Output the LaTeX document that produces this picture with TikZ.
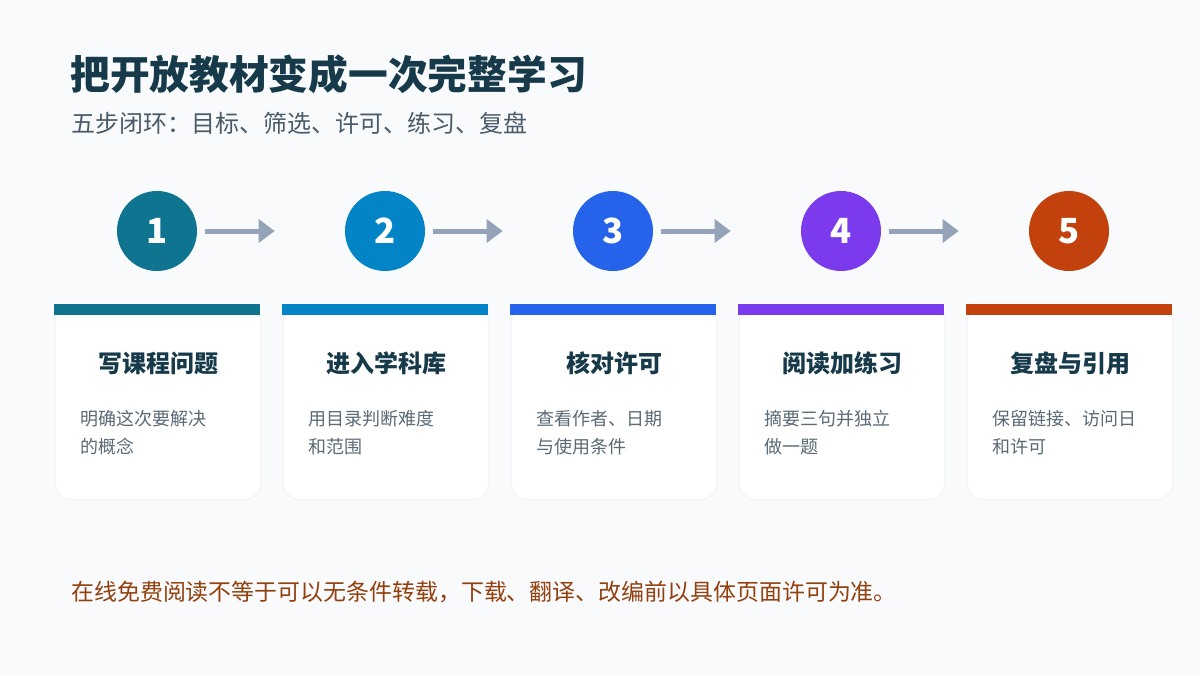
\documentclass[tikz,border=0pt]{standalone}
\usepackage{fontspec}
\setmainfont{Noto Sans CJK SC}
\usepackage{xcolor}
\usetikzlibrary{arrows.meta}
\definecolor{pagebg}{HTML}{F8FAFC}
\definecolor{ink}{HTML}{173A4A}
\definecolor{subink}{HTML}{4A5B69}
\definecolor{bodyink}{HTML}{5B6A76}
\definecolor{arrowgray}{HTML}{94A3B8}
\definecolor{noteink}{HTML}{92400E}
\definecolor{cardline}{HTML}{F1F4F7}
\definecolor{stepA}{HTML}{0E7490}
\definecolor{stepB}{HTML}{0284C7}
\definecolor{stepC}{HTML}{2563EB}
\definecolor{stepD}{HTML}{7C3AED}
\definecolor{stepE}{HTML}{C2410C}

\begin{document}
\begin{tikzpicture}[x=0.75pt,y=-0.75pt,
    flow/.style={draw=arrowgray,line width=3.75pt,-{Triangle[length=12pt,width=17pt]}},
    stepdot/.style={circle,minimum size=60pt,inner sep=0pt,text=white,
      font=\bfseries\fontsize{26}{26}\selectfont},
    card/.style={fill=white,draw=cardline,line width=0.8pt,rounded corners=13.5pt,
      minimum width=154.5pt,minimum height=146.25pt,inner sep=0pt},
    cardhead/.style={text=ink,font=\bfseries\fontsize{18}{18}\selectfont},
    cardtext/.style={text=bodyink,anchor=west,inner sep=0pt,font=\fontsize{13.5}{13.5}\selectfont}]
    \useasboundingbox[fill=pagebg] (0,0) rectangle (1200,675);
    \node[anchor=west,inner sep=0pt,text=ink,font=\bfseries\fontsize{29.8}{29.8}\selectfont]
      (title) at (70,74) {把开放教材变成一次完整学习};
    \node[anchor=west,inner sep=0pt,text=subink,font=\fontsize{18}{18}\selectfont]
      (subtitle) at (71,123) {五步闭环：目标、筛选、许可、练习、复盘};
    % five steps: dot, card with colour bar, two text lines
    \foreach \i/\col/\head/\la/\lb in {1/stepA/写课程问题/明确这次要解决/的概念,
        2/stepB/进入学科库/用目录判断难度/和范围,
        3/stepC/核对许可/查看作者、日期/与使用条件,
        4/stepD/阅读加练习/摘要三句并独立/做一题,
        5/stepE/复盘与引用/保留链接、访问日/和许可} {
      \node[stepdot,fill=\col] (s\i) at ({157+228*(\i-1)},231) {\i};
      \node[card] (k\i) at ({158+228*(\i-1)},402.5) {};
      \fill[\col] (k\i.north west) rectangle ++(206,11);
      \node[cardhead] (h\i) at ({158+228*(\i-1)},363) {\head};
      \node[cardtext] (a\i) at ({80+228*(\i-1)},419) {\la};
      \node[cardtext] (b\i) at ({80+228*(\i-1)},447) {\lb};
    }
    \foreach \i [count=\j from 2] in {1,...,4}
      \draw[flow,shorten <=6pt,shorten >=52.5pt] (s\i) -- (s\j);
    \node[anchor=west,inner sep=0pt,text=noteink,font=\fontsize{17.2}{17.2}\selectfont]
      (note) at (71,592) {在线免费阅读不等于可以无条件转载，下载、翻译、改编前以具体页面许可为准。};
\end{tikzpicture}
\end{document}
